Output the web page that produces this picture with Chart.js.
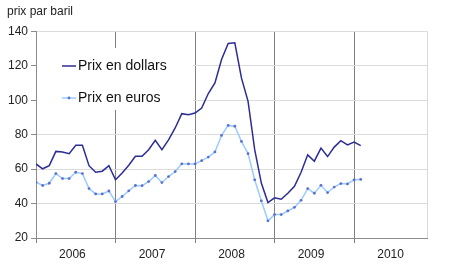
<!DOCTYPE html>
<html>
<head>
<meta charset="utf-8">
<script src="https://cdn.jsdelivr.net/npm/chart.js@4"></script>
<style>
  html, body { margin: 0; padding: 0; background: #fff; }
</style>
</head>
<body>
<canvas id="chart" width="450" height="279"></canvas>
<script>
// monthly values, Jan 2006 - Feb 2010
const years = ["2006", "2007", "2008", "2009", "2010"];
const dollars = [
  63, 60.2, 62, 70.3, 70, 69, 73.8, 73.8, 62, 58.2, 58.8, 62,
  53.8, 57.8, 62.3, 67.5, 67.5, 71.3, 76.7, 71.3, 77, 83.9, 92.2, 91.6,
  92.6, 95.5, 103.9, 110.1, 123.7, 133, 133.4, 113, 99.4, 71.3, 51.9, 40.6,
  43.3, 42.5, 46, 50, 58.2, 68.3, 64.6, 72.2, 67.3, 72.8, 76.5, 74.1,
  75.7, 73.7
];
const euros = [
  52.4, 50.5, 51.8, 57.4, 54.5, 54.5, 58.2, 57.4, 48.7, 45.6, 45.6, 47.3,
  41.1, 44.1, 47.4, 50.5, 50.4, 52.8, 56.3, 52.2, 55.7, 58.6, 63.1, 63,
  63, 64.9, 67, 70, 79.6, 85.4, 84.9, 76.1, 69, 53.8, 41.6, 30,
  33.6, 33.6, 35.7, 37.8, 41.9, 48.7, 46, 50.6, 46.4, 49.6, 51.6, 51.4,
  53.8, 54
];
const yTicks = [20, 40, 60, 80, 100, 120, 140];

const NAVY = "#2c2c95";
const LIGHT = "#99ccff";
const DOT = "#5f6fcc";
const CLEAR = "rgba(0,0,0,0)";
const lastX = 59;

// year boundaries and label positions on the month axis
const bounds = years.slice(1).map((y, i) => (i + 1) * 12);
const mids = years.map((y, i) => i * 12 + 5.5);

const toPoints = arr => arr.map((v, i) => ({ x: i, y: v }));

// white legend box drawn inside the plot
const boxLegend = {
  id: "boxLegend",
  beforeDatasetsDraw(chart) {
    const ctx = chart.ctx;
    ctx.save();
    ctx.fillStyle = "#ffffff";
    ctx.fillRect(37, 48, 156, 62);
    ctx.font = "14px 'Liberation Sans', Arial, sans-serif";
    ctx.textBaseline = "middle";
    const rows = [66, 98];
    chart.data.datasets.forEach((d, i) => {
      const y = rows[i];
      ctx.strokeStyle = d.borderColor;
      ctx.lineWidth = d.borderWidth;
      ctx.beginPath();
      ctx.moveTo(62, y);
      ctx.lineTo(76, y);
      ctx.stroke();
      if (d.pointRadius > 0) {
        ctx.fillStyle = d.pointBackgroundColor;
        ctx.beginPath();
        ctx.arc(69, y, d.pointRadius, 0, Math.PI * 2);
        ctx.fill();
      }
      ctx.fillStyle = "#111";
      ctx.fillText(d.label, 78, y);
    });
    ctx.restore();
  }
};

const ctx = document.getElementById("chart").getContext("2d");
new Chart(ctx, {
  type: "line",
  data: {
    datasets: [
      {
        label: "Prix en dollars",
        data: toPoints(dollars),
        borderColor: NAVY,
        borderWidth: 1.5,
        pointRadius: 0,
        tension: 0
      },
      {
        label: "Prix en euros",
        data: toPoints(euros),
        borderColor: LIGHT,
        borderWidth: 1.5,
        pointRadius: 1.4,
        pointBackgroundColor: DOT,
        pointBorderWidth: 0,
        tension: 0
      }
    ]
  },
  options: {
    responsive: false,
    animation: false,
    layout: { padding: { left: 7, right: 23, top: 0, bottom: 0 } },
    plugins: {
      legend: { display: false },
      tooltip: { enabled: false },
      title: {
        display: true,
        text: "prix par baril",
        align: "start",
        color: "#222",
        font: { family: "'Liberation Sans', Arial, sans-serif", size: 12, weight: "normal" },
        padding: { top: 4, bottom: 13 }
      }
    },
    scales: {
      x: {
        type: "linear",
        min: 0,
        max: lastX,
        afterBuildTicks: scale => {
          const vals = [0].concat(bounds, mids, [lastX]).sort((a, b) => a - b);
          scale.ticks = vals.map(v => ({ value: v }));
        },
        afterFit: scale => { scale.height = 41; },
        ticks: {
          autoSkip: false,
          maxRotation: 0,
          padding: 4,
          color: "#222",
          font: { family: "'Liberation Sans', Arial, sans-serif", size: 12 },
          callback: v => {
            const i = mids.indexOf(v);
            return i >= 0 ? years[i] : "";
          }
        },
        grid: {
          tickLength: 5,
          lineWidth: 1,
          color: c => {
            const v = c.tick ? c.tick.value : null;
            if (bounds.includes(v)) return "#7f7f7f";
            if (v === lastX) return "#d9d9d9";
            return CLEAR;
          },
          tickColor: c => {
            const v = c.tick ? c.tick.value : null;
            if (bounds.includes(v) || v === 0) return "#7f7f7f";
            return CLEAR;
          }
        },
        border: { color: "#8c8c8c" }
      },
      y: {
        min: 20,
        max: 140,
        afterBuildTicks: scale => {
          scale.ticks = yTicks.map(v => ({ value: v }));
        },
        afterFit: scale => { scale.width = 29; },
        ticks: {
          padding: 3,
          color: "#222",
          font: { family: "'Liberation Sans', Arial, sans-serif", size: 12 }
        },
        grid: {
          tickLength: 5,
          color: c => (c.tick && c.tick.value === 20 ? CLEAR : "#dcdcdc"),
          tickColor: "#8c8c8c"
        },
        border: { color: "#8c8c8c" }
      }
    }
  },
  plugins: [boxLegend]
});
</script>
</body>
</html>
